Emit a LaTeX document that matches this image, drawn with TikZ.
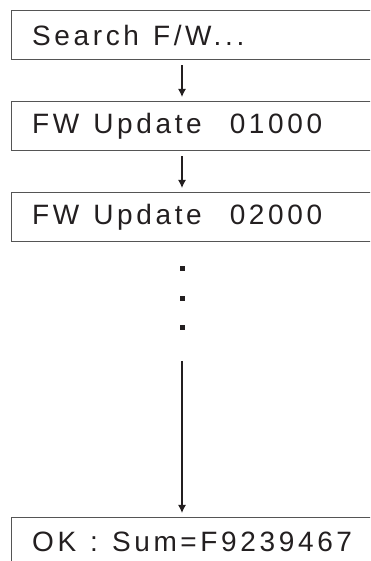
\documentclass[tikz,border=0pt]{standalone}
\usepackage{fontspec}
\setmainfont[LetterSpace=13]{Liberation Sans}
\usetikzlibrary{arrows.meta}
\definecolor{boxline}{HTML}{555555}
\definecolor{ink}{HTML}{231F20}
\newcommand{\wsp}{\hspace{14pt}}
\begin{document}
\begin{tikzpicture}[x=1pt,y=1pt,
  screen/.style={draw=boxline, line width=1.3pt, minimum height=49pt,
    text width=330pt, inner xsep=20.5pt, inner ysep=0pt, align=left,
    anchor=north west, text=ink, font=\fontsize{28}{30}\selectfont},
  flow/.style={draw=ink, line width=1.3pt, -{Latex[length=8pt,width=8pt]}},
  dotmark/.style={fill=ink, draw=none, minimum size=5pt, inner sep=0pt}]
\useasboundingbox (0,0) rectangle (370,561);
\clip (0,0) rectangle (370,561);
\coordinate (ax) at (182,0);
\node[screen] (b1) at (11,551) {Search\wsp F/W...};
\node[screen] (b2) at (11,460) {FW\wsp Update\wsp\wsp 01000};
\node[screen] (b3) at (11,369) {FW\wsp Update\wsp\wsp 02000};
\node[screen] (b4) at (11,44) {OK\wsp :\wsp Sum=F9239467};
\node[dotmark] (d1) at (182,292) {};
\node[dotmark] (d2) at (182,262) {};
\node[dotmark] (d3) at (182,233) {};
\coordinate (s3) at (182,200);
\draw[flow] ([yshift=-5pt]b1.south -| ax) -- ([yshift=4pt]b2.north -| ax);
\draw[flow] ([yshift=-5pt]b2.south -| ax) -- ([yshift=4pt]b3.north -| ax);
\draw[flow] (s3) -- ([yshift=4pt]b4.north -| ax);
\end{tikzpicture}
\end{document}
